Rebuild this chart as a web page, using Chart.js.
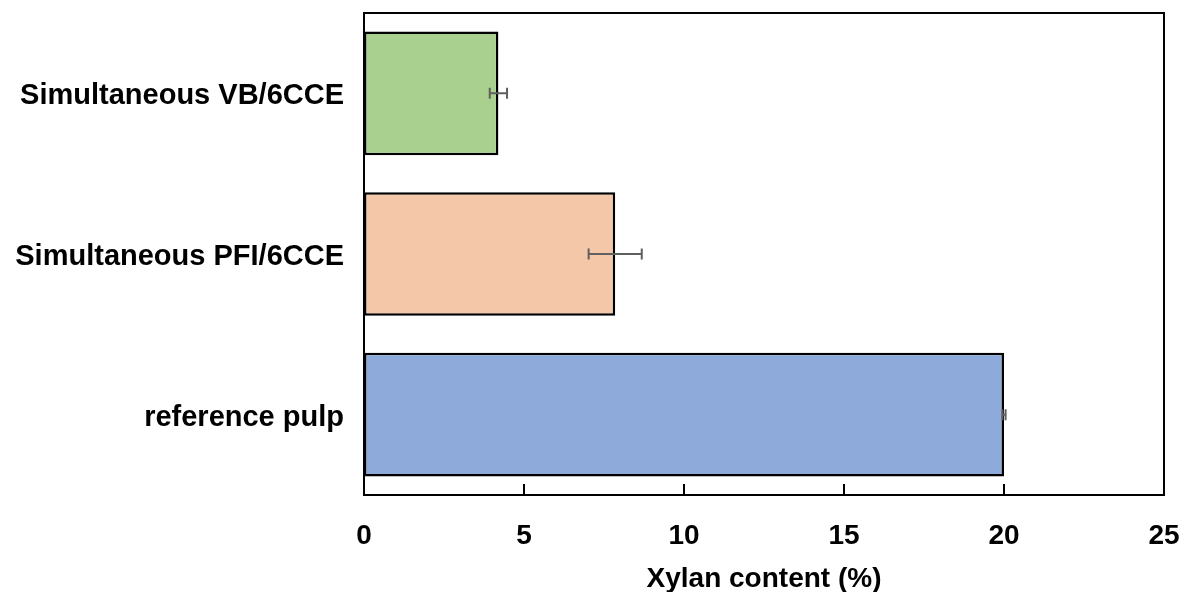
<!DOCTYPE html>
<html>
<head>
<meta charset="utf-8">
<script src="https://cdn.jsdelivr.net/npm/chart.js@4/dist/chart.umd.min.js"></script>
<style>
  html, body { margin: 0; padding: 0; background: #fff; }
  #wrap { width: 1185px; height: 592px; }
</style>
</head>
<body>
<div id="wrap"><canvas id="xylanChart"></canvas></div>
<script>
// chart data
const categories = ["Simultaneous VB/6CCE", "Simultaneous PFI/6CCE", "reference pulp"]
const xylanContent = [4.2, 7.85, 20.0]
const xylanError = [0.27, 0.83, 0.05]
const barColors = ["#A9D08E", "#F4C7A8", "#8EAADB"]
const xMin = 0
const xMax = 25
const xStep = 5

const FONT = "'Liberation Sans', Arial, Helvetica, sans-serif"

// error bars drawn from the x scale
const errorBars = {
  id: "errorBars",
  afterDatasetsDraw(chart) {
    const ctx = chart.ctx
    const xs = chart.scales.x
    const meta = chart.getDatasetMeta(0)
    ctx.save()
    ctx.strokeStyle = "#5f5f5f"
    ctx.lineWidth = 2
    meta.data.forEach((bar, i) => {
      const y = bar.y
      const lo = xs.getPixelForValue(xylanContent[i] - xylanError[i])
      const hi = xs.getPixelForValue(xylanContent[i] + xylanError[i])
      ctx.beginPath()
      ctx.moveTo(lo, y)
      ctx.lineTo(hi, y)
      ctx.moveTo(lo, y - 5.5)
      ctx.lineTo(lo, y + 5.5)
      ctx.moveTo(hi, y - 5.5)
      ctx.lineTo(hi, y + 5.5)
      ctx.stroke()
    })
    ctx.restore()
  },
}

// frame and inward tick marks
const frame = {
  id: "frame",
  afterDraw(chart) {
    const ctx = chart.ctx
    const a = chart.chartArea
    const xs = chart.scales.x
    ctx.save()
    ctx.strokeStyle = "#000"
    ctx.lineWidth = 2
    ctx.strokeRect(a.left, a.top, a.right - a.left, a.bottom - a.top)
    ctx.beginPath()
    xs.ticks.forEach((t) => {
      const px = xs.getPixelForValue(t.value)
      ctx.moveTo(px, a.bottom)
      ctx.lineTo(px, a.bottom - 11)
    })
    ctx.stroke()
    ctx.restore()
  },
}

new Chart(document.getElementById("xylanChart"), {
  type: "bar",
  data: {
    labels: categories,
    datasets: [
      {
        data: xylanContent,
        backgroundColor: barColors,
        borderColor: "#000",
        borderWidth: 2.5,
        borderSkipped: false,
        barPercentage: 0.77,
        categoryPercentage: 1,
      },
    ],
  },
  options: {
    indexAxis: "y",
    responsive: true,
    maintainAspectRatio: false,
    animation: false,
    layout: { padding: { top: 13, right: 21, left: 0, bottom: 0 } },
    plugins: {
      legend: { display: false },
      tooltip: { enabled: false },
    },
    scales: {
      x: {
        min: xMin,
        max: xMax,
        ticks: {
          stepSize: xStep,
          color: "#000",
          padding: 24,
          font: { family: FONT, size: 28, weight: "bold" },
        },
        grid: { display: false, drawTicks: false },
        border: { display: false },
        title: {
          display: true,
          text: "Xylan content (%)",
          color: "#000",
          padding: { top: 14, bottom: 0 },
          font: { family: FONT, size: 28, weight: "bold", lineHeight: 0.9 },
        },
        afterFit(scale) {
          scale.height = 97
          scale.paddingLeft = 0
          scale.paddingRight = 0
        },
      },
      y: {
        ticks: {
          color: "#000",
          padding: 20,
          labelOffset: 3,
          font: { family: FONT, size: 29, weight: "bold" },
        },
        grid: { display: false, drawTicks: false },
        border: { display: false },
        afterFit(scale) {
          scale.width = 364
          scale.paddingTop = 0
          scale.paddingBottom = 0
        },
      },
    },
  },
  plugins: [errorBars, frame],
})
</script>
</body>
</html>
